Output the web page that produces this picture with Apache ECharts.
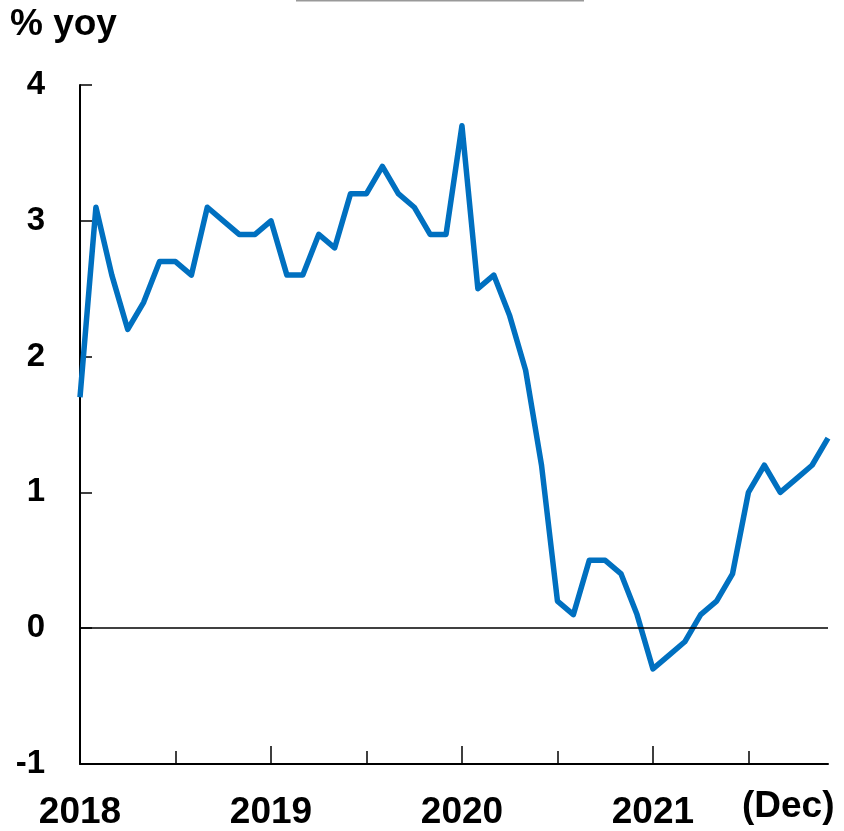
<!DOCTYPE html>
<html>
<head>
<meta charset="utf-8">
<script src="https://cdn.jsdelivr.net/npm/echarts@6/dist/echarts.min.js"></script>
<style>
html,body{margin:0;padding:0;background:#fff;}
#chart{width:844px;height:831px;}
</style>
</head>
<body>
<div id="chart"></div>
<script>
// Monthly data, Jan 2018 - Dec 2021
const months = [];
const years = ['2018', '2019', '2020', '2021'];
const monthNums = ['01','02','03','04','05','06','07','08','09','10','11','12'];
years.forEach(y => monthNums.forEach(m => months.push(y + '-' + m)));

const yoy = [
  1.7, 3.1, 2.6, 2.2, 2.4, 2.7, 2.7, 2.6, 3.1, 3.0, 2.9, 2.9,
  3.0, 2.6, 2.6, 2.9, 2.8, 3.2, 3.2, 3.4, 3.2, 3.1, 2.9, 2.9,
  3.7, 2.5, 2.6, 2.3, 1.9, 1.2, 0.2, 0.1, 0.5, 0.5, 0.4, 0.1,
  -0.3, -0.2, -0.1, 0.1, 0.2, 0.4, 1.0, 1.2, 1.0, 1.1, 1.2, 1.4
];

const yTicks = { min: -1, max: 4, interval: 1 };
const unitLabel = '% yoy';
const endNote = '(Dec)';

const FONT = "'Liberation Sans', Arial, sans-serif";
const chart = echarts.init(document.getElementById('chart'), null, { renderer: 'canvas' });

chart.setOption({
  animation: false,
  backgroundColor: '#ffffff',
  grid: { left: 80, right: 16, top: 85, bottom: 66, containLabel: false },
  xAxis: [
    {
      type: 'category',
      data: months,
      boundaryGap: false,
      position: 'bottom',
      axisLine: { onZero: false, lineStyle: { color: '#000', width: 2 } },
      axisTick: { inside: true, length: 13, interval: (i) => i % 6 === 0, lineStyle: { color: '#000', width: 1.5 } },
      axisLabel: {
        interval: (i) => i % 12 === 0,
        formatter: (v) => v.slice(0, 4),
        fontFamily: FONT, fontWeight: 'bold', fontSize: 37, color: '#000', margin: 30
      },
      splitLine: { show: false }
    },
    {
      type: 'category',
      data: months,
      boundaryGap: false,
      position: 'bottom',
      axisLine: { show: false, onZero: false },
      axisTick: { inside: true, length: 18, interval: (i) => i % 12 === 0 && i > 0, lineStyle: { color: '#000', width: 1.5 } },
      axisLabel: { show: false },
      splitLine: { show: false }
    }
  ],
  yAxis: {
    type: 'value',
    min: yTicks.min, max: yTicks.max, interval: yTicks.interval,
    axisLine: { show: true, lineStyle: { color: '#000', width: 2 } },
    axisTick: { show: true, inside: true, length: 12, lineStyle: { color: '#000', width: 1.5 } },
    axisLabel: { fontFamily: FONT, fontWeight: 'bold', fontSize: 33, color: '#000', margin: 35 },
    splitLine: { show: false }
  },
  series: [{
    type: 'line',
    data: yoy,
    xAxisIndex: 0,
    symbol: 'none',
    lineStyle: { color: '#0070C0', width: 5.5, join: 'round' },
    markLine: {
      silent: true,
      symbol: 'none',
      label: { show: false },
      lineStyle: { color: '#000', width: 1.5, type: 'solid' },
      data: [{ yAxis: 0 }]
    },
    z: 3
  }],
  graphic: [
    {
      type: 'text', left: 10, top: 6,
      style: { text: unitLabel, font: "bold 37px " + FONT, fill: '#000' }
    },
    {
      type: 'text', left: 742, top: 788,
      style: { text: endNote, font: "bold 37px " + FONT, fill: '#000' }
    },
    {
      type: 'line',
      shape: { x1: 296, y1: 0.5, x2: 584, y2: 0.5 },
      style: { stroke: '#999', lineWidth: 2 }
    }
  ]
});
</script>
</body>
</html>
